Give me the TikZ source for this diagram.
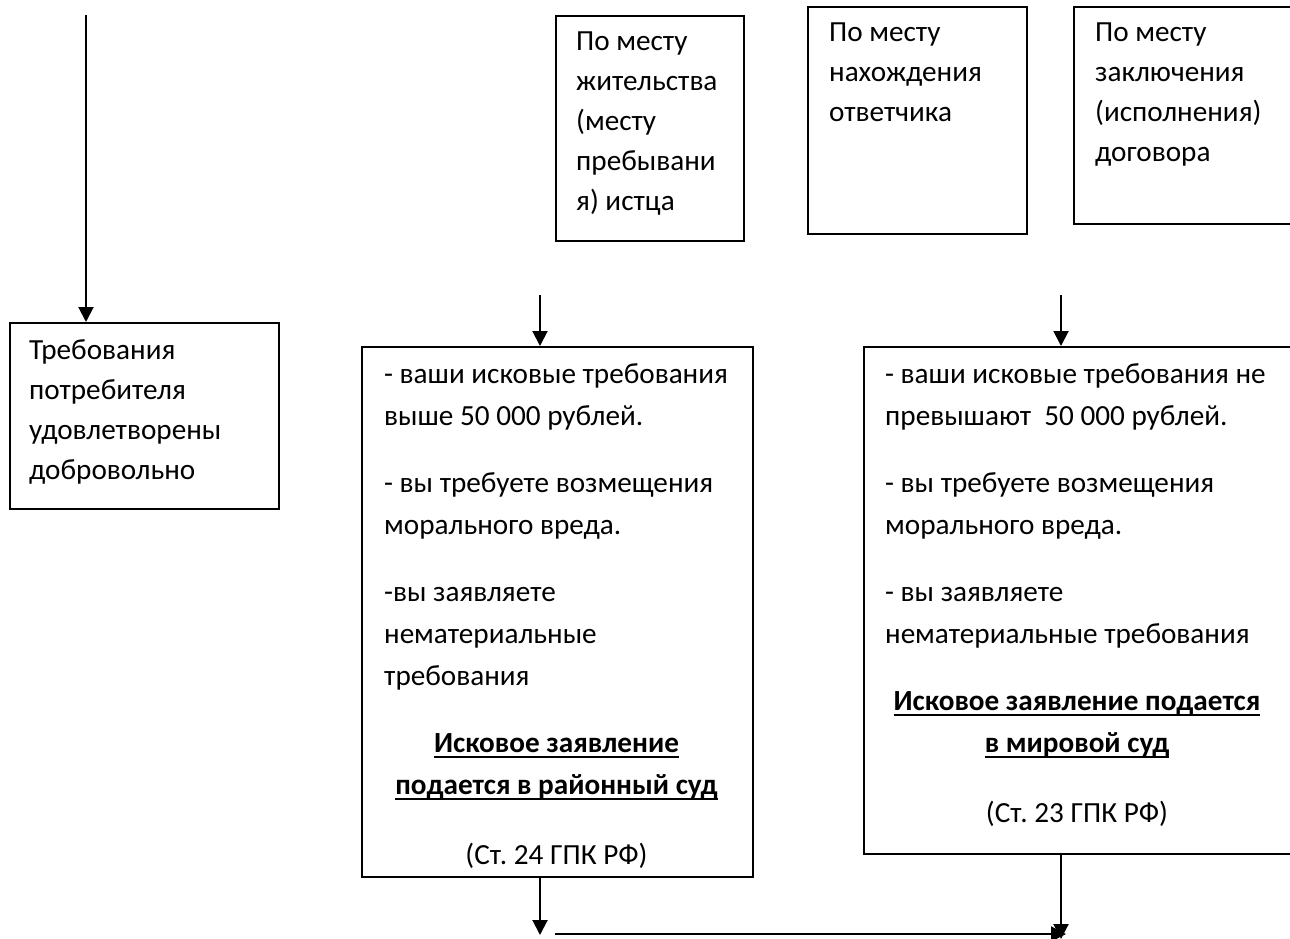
\documentclass[tikz,border=0pt]{standalone}
\usepackage{fontspec}
\setmainfont{Carlito}
\usetikzlibrary{arrows.meta}
\frenchspacing

\tikzset{
  frame/.style={draw, line width=2pt, inner sep=0pt, anchor=north west},
  txt/.style={inner sep=0pt, anchor=north west, align=left, font=\fontsize{29.2}{40}\selectfont},
  list/.style={txt, font=\fontsize{29.2}{42}\selectfont},
  ctxt/.style={inner sep=0pt, anchor=north, align=center, font=\fontsize{29.2}{42}\selectfont},
  arr/.style={line width=2pt, -{Triangle[width=15pt,length=15pt]}}
}
\newcommand{\ulbf}[1]{\setbox0\hbox{\bfseries #1}\leavevmode\rlap{\rule[-6pt]{\wd0}{2.5pt}}\box0}

\begin{document}
\begin{tikzpicture}[x=1pt,y=-1pt]
\useasboundingbox (0,0) rectangle (1290,939);
\clip (0,0) rectangle (1290,939);
% top row
\node[frame, minimum width=188pt, minimum height=225pt] (zhit) at (555,15) {};
\node[txt] (zhittxt) at (576,32) {По месту\\жительства\\(месту\\пребывани\\я) истца};
\node[frame, minimum width=219pt, minimum height=227pt] (nahod) at (807,6) {};
\node[txt] (nahodtxt) at (829,23) {По месту\\нахождения\\ответчика};
\node[frame, minimum width=218pt, minimum height=217pt] (dogov) at (1073,6) {};
\node[txt] (dogovtxt) at (1095,23) {По месту\\заключения\\(исполнения)\\договора};
% left
\coordinate (ltop) at (86,15);
\node[frame, minimum width=269pt, minimum height=186pt] (dobr) at (9,322) {};
\node[txt] (dobrtxt) at (29,339) {Требования\\потребителя\\удовлетворены\\добровольно};
\draw[arr] (ltop) -- (dobr.north -| ltop);
% district court
\coordinate (mtop) at (540,295);
\node[frame, minimum width=391pt, minimum height=530pt] (rayon) at (361,346) {};
\node[list] (rayontxt) at (384,363) {- ваши исковые требования\\выше 50 000 рублей.\\[25pt]- вы требуете возмещения\\морального вреда.\\[25pt]-вы заявляете\\нематериальные\\требования};
\node[ctxt] (rayonhead) at (556.5,733) {\ulbf{Исковое заявление}\\\ulbf{подается в районный суд}};
\node[ctxt] (rayonst) at (556.5,843) {(Ст. 24 ГПК РФ)};
\draw[arr] (mtop) -- (rayon.north -| mtop);
% magistrate court
\coordinate (rtop) at (1061,295);
\node[frame, minimum width=428pt, minimum height=507pt] (mirov) at (863,346) {};
\node[list] (mirovtxt) at (885,363) {- ваши исковые требования не\\превышают~ 50 000 рублей.\\[25pt]- вы требуете возмещения\\морального вреда.\\[25pt]- вы заявляете\\нематериальные требования};
\node[ctxt] (mirovhead) at (1077,691) {\ulbf{Исковое заявление подается}\\\ulbf{в мировой суд}};
\node[ctxt] (mirovst) at (1077,801) {(Ст. 23 ГПК РФ)};
\draw[arr] (rtop) -- (mirov.north -| rtop);
% bottom
\coordinate (mbot) at (540,935);
\coordinate (hstart) at (555,934);
\coordinate (hend) at (1066,934);
\coordinate (rbot) at (1061,939);
\draw[arr] (rayon.south -| mbot) -- (mbot);
\draw[arr] (hstart) -- (hend);
\draw[arr] (mirov.south -| rbot) -- (rbot);
\end{tikzpicture}
\end{document}
